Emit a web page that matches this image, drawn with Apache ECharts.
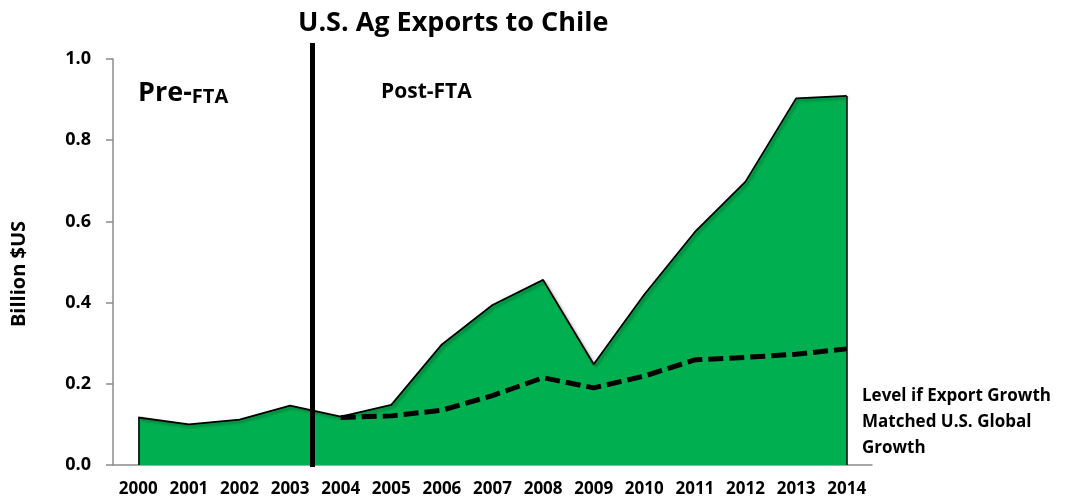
<!DOCTYPE html>
<html>
<head>
<meta charset="utf-8">
<script src="https://cdn.jsdelivr.net/npm/echarts@6/dist/echarts.min.js"></script>
<style>
  html, body { margin: 0; padding: 0; background: #fff; }
  #chart { width: 1080px; height: 500px; }
</style>
</head>
<body>
<div id="chart"></div>
<script>
// U.S. agricultural exports to Chile, billion US$
const years = ['2000','2001','2002','2003','2004','2005','2006','2007','2008','2009','2010','2011','2012','2013','2014'];
const actualExports = [0.117, 0.100, 0.112, 0.146, 0.119, 0.148, 0.297, 0.394, 0.456, 0.248, 0.420, 0.574, 0.698, 0.903, 0.909];
// Counterfactual path: exports growing at the U.S. global rate from 2004
const globalGrowthLevel = [null, null, null, null, 0.117, 0.121, 0.135, 0.171, 0.215, 0.190, 0.219, 0.259, 0.265, 0.273, 0.286];
const yTicks = [0, 0.2, 0.4, 0.6, 0.8, 1.0];
// FTA took effect at the start of 2004 (position on the category index scale)
const ftaPosition = 3.43;

const FONT = '"Open Sans"';
const chart = echarts.init(document.getElementById('chart'));
const lastIdx = years.length - 1;

// closes the filled area with vertical edges at both ends
const edge = i => [
  { coord: [years[i], actualExports[i]] },
  { coord: [years[i], 0] }
];

chart.setOption({
  animation: false,
  textStyle: { fontFamily: FONT },
  grid: [
    { left: 113, right: 208, top: 59, bottom: 35 },
    { left: 113, right: 208, top: 43, bottom: 33 }
  ],
  xAxis: [
    {
      gridIndex: 0,
      type: 'category',
      data: years,
      boundaryGap: true,
      axisLine: { lineStyle: { color: '#8c8c8c', width: 1.5 } },
      axisTick: { show: false },
      axisLabel: { interval: 0, color: '#000', fontWeight: 'bold', fontSize: 17, margin: 16, fontFamily: FONT }
    },
    {
      gridIndex: 1,
      type: 'value',
      min: -0.5,
      max: years.length - 0.5,
      show: false
    }
  ],
  yAxis: [
    {
      gridIndex: 0,
      type: 'value',
      min: yTicks[0],
      max: yTicks[yTicks.length - 1],
      interval: 0.2,
      name: 'Billion $US',
      nameLocation: 'middle',
      nameGap: 84,
      nameTextStyle: { color: '#000', fontWeight: 'bold', fontSize: 20, fontFamily: FONT, padding: [0, 24, 0, 0] },
      axisLine: { show: true, lineStyle: { color: '#8c8c8c', width: 1.5 } },
      axisTick: { show: true, length: 7, lineStyle: { color: '#8c8c8c', width: 1.5 } },
      splitLine: { show: false },
      axisLabel: {
        color: '#000', fontWeight: 'bold', fontSize: 18, margin: 22, fontFamily: FONT,
        formatter: v => v.toFixed(1)
      }
    },
    {
      gridIndex: 1,
      type: 'value',
      min: 0,
      max: 1,
      show: false
    }
  ],
  series: [
    {
      name: 'U.S. Ag Exports to Chile',
      type: 'line',
      xAxisIndex: 0,
      yAxisIndex: 0,
      data: actualExports,
      symbol: 'none',
      lineStyle: {
        color: '#000', width: 1.8,
        shadowColor: 'rgba(0,0,0,0.35)', shadowBlur: 3, shadowOffsetX: 2, shadowOffsetY: 2
      },
      areaStyle: { color: '#00B050', opacity: 1 },
      markLine: {
        silent: true,
        symbol: 'none',
        label: { show: false },
        lineStyle: { color: '#000', width: 1.5, type: 'solid' },
        data: [edge(0), edge(lastIdx)]
      },
      z: 2
    },
    {
      name: 'Level if Export Growth Matched U.S. Global Growth',
      type: 'line',
      xAxisIndex: 0,
      yAxisIndex: 0,
      data: globalGrowthLevel,
      symbol: 'none',
      connectNulls: false,
      lineStyle: { color: '#000', width: 5, type: [15, 6] },
      z: 3
    },
    {
      name: 'FTA',
      type: 'line',
      xAxisIndex: 1,
      yAxisIndex: 1,
      data: [],
      markLine: {
        silent: true,
        symbol: 'none',
        label: { show: false },
        lineStyle: { color: '#000', width: 5, type: 'solid' },
        data: [{ xAxis: ftaPosition }]
      },
      z: 5
    }
  ],
  graphic: [
    {
      type: 'text', left: 298, top: 10, z: 10,
      style: {
        text: 'U.S. Ag Exports to Chile',
        font: 'bold 27px ' + FONT, fill: '#000'
      }
    },
    {
      type: 'text', left: 138, top: 80, z: 10,
      style: {
        text: '{a|Pre-}{b|FTA}',
        rich: {
          a: { font: 'bold 27px ' + FONT, fill: '#000', verticalAlign: 'bottom' },
          b: { font: 'bold 20px ' + FONT, fill: '#000', verticalAlign: 'bottom' }
        }
      }
    },
    {
      type: 'text', left: 381, top: 82, z: 10,
      style: { text: 'Post-FTA', font: 'bold 21px ' + FONT, fill: '#000' }
    },
    {
      type: 'text', left: 862, top: 383, z: 10,
      style: {
        text: 'Level if Export Growth\nMatched U.S. Global\nGrowth',
        font: 'bold 17px ' + FONT, fill: '#000', lineHeight: 26
      }
    }
  ]
});
</script>
</body>
</html>
